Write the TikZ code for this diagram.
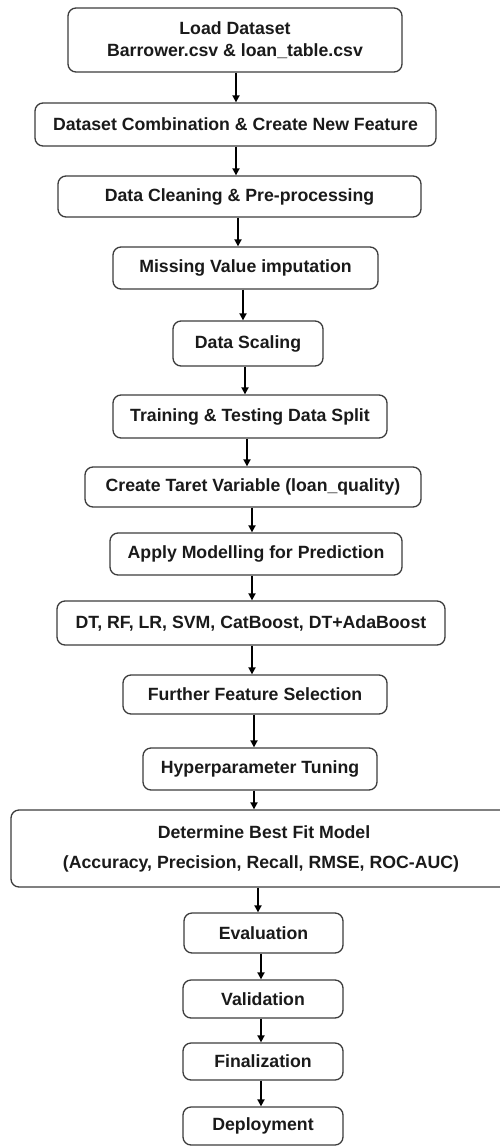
\documentclass[tikz,border=0pt]{standalone}
\usepackage{fontspec}
\setmainfont{Liberation Sans}
\usetikzlibrary{arrows.meta}
\definecolor{edge}{HTML}{3C3C3C}
\definecolor{ink}{HTML}{1A1A1A}
\tikzset{
  stepbox/.style={draw=edge, line width=1.3pt, rounded corners=8pt, fill=white,
    text=ink, align=center, inner sep=0pt, font=\bfseries\fontsize{17.7}{22}\selectfont},
  flow/.style={line width=1.7pt, -{Triangle[length=7pt,width=7pt]}}
}
\begin{document}
\begin{tikzpicture}[x=1pt,y=-1pt]
\useasboundingbox (0,0) rectangle (499,1146);
% process steps: centre, width, height in pt
\node[stepbox, minimum width=334pt, minimum height=64pt] (load) at (235,40)
  {Load Dataset\\Barrower.csv \& loan\_table.csv};
\node[stepbox, minimum width=401pt, minimum height=43pt] (combine) at (235.5,124.5)
  {Dataset Combination \& Create New Feature};
\node[stepbox, minimum width=363pt, minimum height=41pt] (clean) at (239.5,196.5)
  {Data Cleaning \& Pre-processing};
\node[stepbox, minimum width=265pt, minimum height=42pt] (impute) at (245.5,268)
  {Missing Value imputation};
\node[stepbox, minimum width=150pt, minimum height=45pt] (scale) at (248,343.5)
  {Data Scaling};
\node[stepbox, minimum width=274pt, minimum height=43pt] (split) at (250,416.5)
  {Training \& Testing Data Split};
\node[stepbox, minimum width=336pt, minimum height=40pt] (target) at (253,487)
  {Create Taret Variable (loan\_quality)};
\node[stepbox, minimum width=292pt, minimum height=42pt] (apply) at (256,554)
  {Apply Modelling for Prediction};
\node[stepbox, minimum width=388pt, minimum height=44pt] (models) at (251,623)
  {DT, RF, LR, SVM, CatBoost, DT+AdaBoost};
\node[stepbox, minimum width=264pt, minimum height=39pt] (select) at (255,694.5)
  {Further Feature Selection};
\node[stepbox, minimum width=234pt, minimum height=42pt] (tune) at (260,769)
  {Hyperparameter Tuning};
% this box runs past the right margin
\node[stepbox, minimum width=506pt, minimum height=77pt,
  font=\bfseries\fontsize{17.7}{30}\selectfont] (best) at (264,848.5)
  {Determine Best Fit Model\\(Accuracy, Precision, Recall, RMSE, ROC-AUC)\hspace*{6pt}};
\node[stepbox, minimum width=159pt, minimum height=40pt] (eval) at (263.5,933)
  {Evaluation};
\node[stepbox, minimum width=160pt, minimum height=38pt] (valid) at (263,999)
  {Validation};
\node[stepbox, minimum width=160pt, minimum height=37pt] (final) at (263,1061.5)
  {Finalization};
\node[stepbox, minimum width=160pt, minimum height=38pt] (deploy) at (263,1126)
  {Deployment};
% connectors
\draw[flow] (load.south -| 236,0) -- (combine.north -| 236,0);
\draw[flow] (combine.south -| 236,0) -- (clean.north -| 236,0);
\draw[flow] (clean.south -| 238,0) -- (impute.north -| 238,0);
\draw[flow] (impute.south -| 243,0) -- (scale.north -| 243,0);
\draw[flow] (scale.south -| 245,0) -- (split.north -| 245,0);
\draw[flow] (split.south -| 247,0) -- (target.north -| 247,0);
\draw[flow] (target.south -| 252,0) -- (apply.north -| 252,0);
\draw[flow] (apply.south -| 252,0) -- (models.north -| 252,0);
\draw[flow] (models.south -| 252,0) -- (select.north -| 252,0);
\draw[flow] (select.south -| 254,0) -- (tune.north -| 254,0);
\draw[flow] (tune.south -| 254,0) -- (best.north -| 254,0);
\draw[flow] (best.south -| 258,0) -- (eval.north -| 258,0);
\draw[flow] (eval.south -| 261,0) -- (valid.north -| 261,0);
\draw[flow] (valid.south -| 261,0) -- (final.north -| 261,0);
\draw[flow] (final.south -| 261,0) -- (deploy.north -| 261,0);
\end{tikzpicture}
\end{document}
